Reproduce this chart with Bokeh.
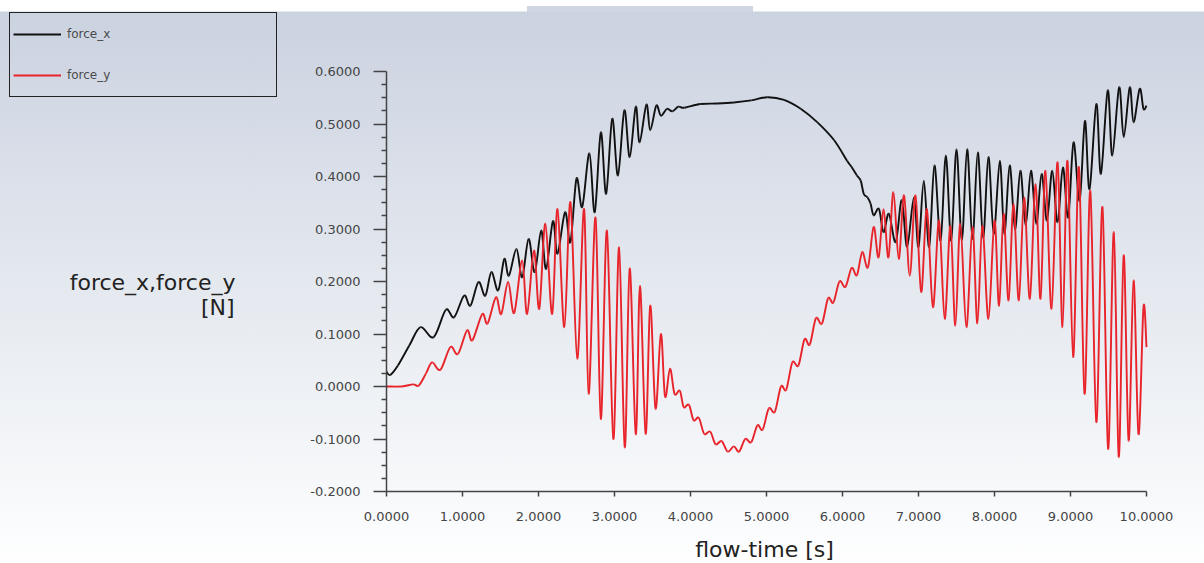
from bokeh.plotting import figure
from bokeh.models import (Legend, LegendItem, Label, Range1d, PrintfTickFormatter,
                          FixedTicker, ColumnDataSource)
from bokeh.embed import file_html
from bokeh.resources import INLINE

# ---- data (peaks / troughs of the traces) ----
time_x = [0.00, 0.05, 0.15, 0.30, 0.447, 0.62, 0.78, 0.89, 1.02, 1.105, 1.21, 1.30, 1.38, 1.47,
          1.55, 1.61, 1.71, 1.785, 1.87, 1.95, 2.035, 2.10, 2.19, 2.25, 2.35, 2.42, 2.50, 2.575,
          2.67, 2.74, 2.82, 2.89, 2.97, 3.045, 3.13, 3.20, 3.28, 3.33, 3.42, 3.47, 3.55, 3.61,
          3.69, 3.76, 3.84, 3.92, 4.13, 4.35, 4.57, 4.80, 5.01, 5.23, 5.45, 5.67, 5.89, 6.06,
          6.12, 6.19, 6.24, 6.28, 6.33, 6.37, 6.41, 6.48, 6.54, 6.61, 6.70, 6.78, 6.85, 6.94,
          7.00, 7.07, 7.14, 7.21, 7.29, 7.36, 7.43, 7.50, 7.57, 7.64, 7.71, 7.78, 7.85, 7.92,
          7.99, 8.07, 8.13, 8.20, 8.27, 8.34, 8.41, 8.48, 8.55, 8.62, 8.69, 8.76, 8.83, 8.90,
          8.97, 9.04, 9.12, 9.19, 9.25, 9.34, 9.40, 9.49, 9.55, 9.64, 9.70, 9.78, 9.83, 9.91,
          9.96, 10.00]
force_x = [0.028, 0.022, 0.040, 0.078, 0.113, 0.094, 0.146, 0.132, 0.173, 0.154, 0.199, 0.173, 0.218, 0.183,
           0.243, 0.211, 0.262, 0.208, 0.281, 0.218, 0.297, 0.224, 0.315, 0.253, 0.332, 0.275, 0.396, 0.342,
           0.444, 0.332, 0.484, 0.367, 0.510, 0.402, 0.526, 0.437, 0.533, 0.465, 0.537, 0.488, 0.535, 0.516,
           0.529, 0.524, 0.533, 0.531, 0.538, 0.539, 0.541, 0.545, 0.551, 0.546, 0.529, 0.503, 0.469, 0.430,
           0.418, 0.402, 0.392, 0.367, 0.360, 0.348, 0.326, 0.338, 0.294, 0.329, 0.275, 0.355, 0.266, 0.360,
           0.266, 0.392, 0.266, 0.421, 0.278, 0.440, 0.278, 0.452, 0.278, 0.452, 0.281, 0.446, 0.284, 0.437,
           0.291, 0.430, 0.291, 0.421, 0.300, 0.411, 0.306, 0.411, 0.310, 0.405, 0.316, 0.411, 0.313, 0.417,
           0.322, 0.465, 0.354, 0.506, 0.376, 0.538, 0.405, 0.564, 0.440, 0.570, 0.475, 0.570, 0.503, 0.567,
           0.529, 0.535]

time_y = [0.00, 0.20, 0.35, 0.425, 0.52, 0.60, 0.71, 0.84, 0.94, 1.06, 1.13, 1.26, 1.33, 1.44,
          1.51, 1.60, 1.68, 1.785, 1.85, 1.94, 2.01, 2.09, 2.18, 2.25, 2.34, 2.42, 2.51, 2.60,
          2.66, 2.75, 2.82, 2.90, 2.985, 3.06, 3.135, 3.20, 3.28, 3.335, 3.41, 3.47, 3.54, 3.61,
          3.665, 3.73, 3.79, 3.86, 3.91, 3.98, 4.04, 4.11, 4.18, 4.26, 4.33, 4.41, 4.49, 4.57,
          4.64, 4.72, 4.80, 4.88, 4.95, 5.03, 5.11, 5.19, 5.26, 5.34, 5.42, 5.50, 5.57, 5.65,
          5.73, 5.81, 5.88, 5.96, 6.04, 6.12, 6.19, 6.26, 6.335, 6.41, 6.475, 6.54, 6.605, 6.67,
          6.74, 6.81, 6.885, 6.96, 7.035, 7.11, 7.19, 7.27, 7.345, 7.42, 7.485, 7.55, 7.63, 7.71,
          7.775, 7.84, 7.92, 8.00, 8.06, 8.12, 8.185, 8.25, 8.32, 8.39, 8.465, 8.54, 8.605, 8.67,
          8.75, 8.83, 8.895, 8.96, 9.035, 9.11, 9.185, 9.26, 9.34, 9.42, 9.495, 9.57, 9.635, 9.70,
          9.765, 9.83, 9.895, 9.96, 10.00]
force_y = [0.000, 0.000, 0.004, 0.002, 0.025, 0.046, 0.032, 0.075, 0.062, 0.107, 0.088, 0.138, 0.120, 0.170,
           0.138, 0.199, 0.140, 0.240, 0.138, 0.259, 0.148, 0.310, 0.138, 0.338, 0.113, 0.351, 0.053, 0.338,
           -0.014, 0.322, -0.062, 0.297, -0.100, 0.265, -0.116, 0.225, -0.091, 0.192, -0.090, 0.154, -0.042, 0.100,
           -0.019, 0.034, -0.014, -0.008, -0.039, -0.035, -0.064, -0.060, -0.090, -0.086, -0.110, -0.104, -0.124, -0.114,
           -0.124, -0.100, -0.106, -0.074, -0.082, -0.042, -0.048, 0.000, -0.006, 0.046, 0.040, 0.090, 0.080, 0.130,
           0.120, 0.168, 0.160, 0.200, 0.190, 0.226, 0.212, 0.256, 0.227, 0.304, 0.246, 0.338, 0.246, 0.370,
           0.243, 0.364, 0.211, 0.364, 0.180, 0.338, 0.151, 0.316, 0.129, 0.306, 0.116, 0.310, 0.113, 0.304,
           0.120, 0.306, 0.129, 0.316, 0.154, 0.329, 0.164, 0.348, 0.164, 0.360, 0.167, 0.386, 0.167, 0.411,
           0.148, 0.427, 0.113, 0.430, 0.056, 0.418, -0.014, 0.373, -0.068, 0.342, -0.119, 0.294, -0.134, 0.250,
           -0.103, 0.202, -0.091, 0.151, 0.075]

x_ticks = [0, 1, 2, 3, 4, 5, 6, 7, 8, 9, 10]
y_ticks = [-0.2, -0.1, 0.0, 0.1, 0.2, 0.3, 0.4, 0.5, 0.6]
series_names = ["force_x", "force_y"]
x_title = "flow-time [s]"
y_title = "force_x,force_y"
y_unit = "[N]"

FONT = "DejaVu Sans"
W, H = 1204, 563
# pixel placement of the axes box inside the page
AX_L, AX_R, AX_T, AX_B = 386, 1146, 71, 491
px_per_x = (AX_R - AX_L) / (x_ticks[-1] - x_ticks[0])
px_per_y = (AX_B - AX_T) / (y_ticks[-1] - y_ticks[0])
x_lo = x_ticks[0] - AX_L / px_per_x
x_hi = x_ticks[-1] + (W - AX_R) / px_per_x
y_lo = y_ticks[0] - (H - AX_B) / px_per_y
y_hi = y_ticks[-1] + AX_T / px_per_y


def sx(px):
    return x_lo + px / px_per_x


def sy(py):
    return y_hi - py / px_per_y


p = figure(width=W, height=H, output_backend="svg", toolbar_location=None,
           x_range=Range1d(x_lo, x_hi), y_range=Range1d(y_lo, y_hi), min_border=0)
p.min_border_left = p.min_border_right = p.min_border_top = p.min_border_bottom = 0

p.border_fill_color = None
p.background_fill_color = None
p.outline_line_color = None
p.grid.visible = False
p.styles = {
    "background": "linear-gradient(#cfd5e2, #cfd5e2) 527px 6px / 226px 6px no-repeat, "
                  "linear-gradient(to bottom, #ffffff 0px, #ffffff 11px, #cbd2e0 12px, #dfe4ec 40%, "
                  "#eef1f5 70%, #fbfcfd 95%, #ffffff 100%)"
}


def smooth_source(xs, ys):
    n = len(xs)
    d = dict(x0=[], y0=[], x1=[], y1=[], cx0=[], cy0=[], cx1=[], cy1=[])
    for i in range(n - 1):
        a = max(i - 1, 0)
        b = min(i + 2, n - 1)
        d["x0"].append(xs[i]); d["y0"].append(ys[i])
        d["x1"].append(xs[i + 1]); d["y1"].append(ys[i + 1])
        d["cx0"].append(xs[i] + (xs[i + 1] - xs[a]) / 6.0)
        d["cy0"].append(ys[i] + (ys[i + 1] - ys[a]) / 6.0)
        d["cx1"].append(xs[i + 1] - (xs[b] - xs[i]) / 6.0)
        d["cy1"].append(ys[i + 1] - (ys[b] - ys[i]) / 6.0)
    return ColumnDataSource(d)


r1 = p.bezier(x0="x0", y0="y0", x1="x1", y1="y1", cx0="cx0", cy0="cy0", cx1="cx1", cy1="cy1",
              source=smooth_source(time_x, force_x), line_color="#111111", line_width=1.9)
r2 = p.bezier(x0="x0", y0="y0", x1="x1", y1="y1", cx0="cx0", cy0="cy0", cx1="cx1", cy1="cy1",
              source=smooth_source(time_y, force_y), line_color="#e8232a", line_width=1.9)

y_minor = [round(y_ticks[0] + 0.025 * i, 3) for i in range(33)]
y_minor = [v for v in y_minor if all(abs(v - t) > 1e-6 for t in y_ticks)]

p.xaxis.ticker = FixedTicker(ticks=x_ticks)
p.yaxis.ticker = FixedTicker(ticks=y_ticks, minor_ticks=y_minor)
p.xaxis.fixed_location = y_ticks[0]
p.yaxis.fixed_location = x_ticks[0]
p.xaxis.bounds = (x_ticks[0], x_ticks[-1])
p.yaxis.bounds = (y_ticks[0], y_ticks[-1])
for ax in (p.xaxis[0], p.yaxis[0]):
    ax.formatter = PrintfTickFormatter(format="%.4f")
    ax.axis_line_color = "#444444"
    ax.axis_line_width = 1.5
    ax.major_tick_line_color = "#444444"
    ax.major_tick_line_width = 1.5
    ax.minor_tick_line_color = "#444444"
    ax.minor_tick_line_width = 1.5
    ax.major_tick_in = 0
    ax.minor_tick_in = 0
    ax.major_label_text_font = FONT
    ax.major_label_text_font_size = "13px"
    ax.major_label_text_color = "#454545"

p.xaxis.major_tick_out = 5
p.xaxis.minor_tick_out = 0
p.xaxis.major_label_standoff = 15
p.yaxis.major_tick_out = 13
p.yaxis.minor_tick_out = 5
p.yaxis.major_label_standoff = 13

legend = Legend(items=[LegendItem(label=series_names[0], renderers=[r1]),
                       LegendItem(label=series_names[1], renderers=[r2])],
                location=(9, H - 97), orientation="vertical", margin=0,
                padding=3, spacing=5, glyph_width=48, glyph_height=36,
                label_height=36, label_width=206, label_standoff=6,
                border_line_color="#222222", border_line_width=1.8, border_line_alpha=1.0,
                background_fill_alpha=0,
                label_text_font=FONT, label_text_font_size="12px",
                label_text_color="#4a4a4a")
p.add_layout(legend)

p.add_layout(Label(x=sx(235), y=sy(282), text=y_title, text_align="right",
                   text_baseline="middle", text_font=FONT, text_font_size="22px",
                   text_color="#222222"))
p.add_layout(Label(x=sx(234), y=sy(307), text=y_unit, text_align="right",
                   text_baseline="middle", text_font=FONT, text_font_size="22px",
                   text_color="#222222"))
p.add_layout(Label(x=sx(764), y=sy(549), text=x_title, text_align="center",
                   text_baseline="middle", text_font=FONT, text_font_size="22px",
                   text_color="#222222"))

open("out.html", "w").write(file_html(p, INLINE))
